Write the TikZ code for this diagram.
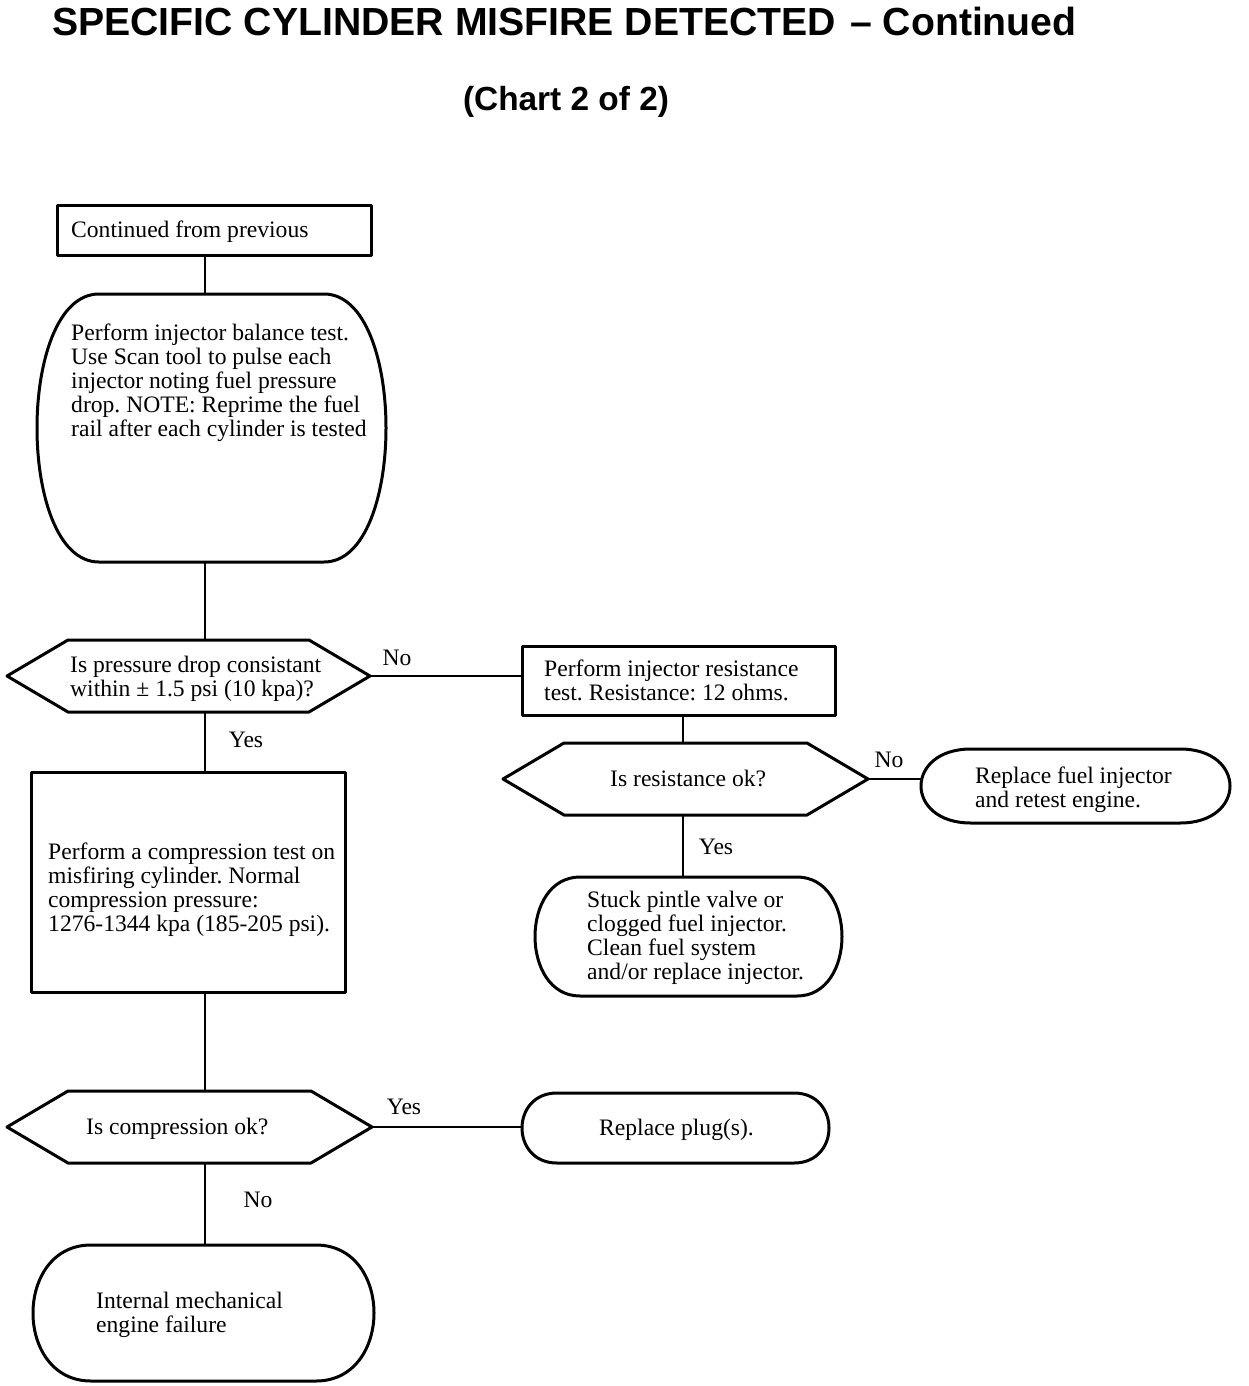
\documentclass[tikz,border=0pt]{standalone}
\usepackage{fontspec}
\setmainfont{Liberation Serif}
\newfontfamily\titlefont{Liberation Sans}
\newcommand\bodysize{\fontsize{23.6}{24}\selectfont}
\newcommand\stadiumpath[2]{%
  \draw[boxline] ([xshift=#2]#1.north west) -- ([xshift=-#2]#1.north east)
    .. controls ([xshift=#2/3]#1.north east) and ([xshift=#2/3]#1.south east) .. ([xshift=-#2]#1.south east)
    -- ([xshift=#2]#1.south west)
    .. controls ([xshift=-#2/3]#1.south west) and ([xshift=-#2/3]#1.north west) .. cycle;}
\newcommand\hexpath[2]{%
  \draw[boxline] (#1.west) -- ([xshift=#2]#1.north west) -- ([xshift=-#2]#1.north east)
    -- (#1.east) -- ([xshift=-#2]#1.south east) -- ([xshift=#2]#1.south west) -- cycle;}
\frenchspacing
\begin{document}
\begin{tikzpicture}[x=1pt,y=-1pt,
  boxline/.style={line width=3pt, line join=round},
  frame/.style={inner sep=0pt, outer sep=0pt},
  rectbox/.style={frame, draw, boxline},
  conn/.style={line width=1.8pt},
  txt/.style={inner sep=0pt, align=left, anchor=north west, font=\bodysize, execute at begin node=\strut},
  lbl/.style={inner sep=0pt, font=\bodysize}]
\useasboundingbox (0,0) rectangle (1248,1386);

% title
\node[inner sep=0pt, anchor=west] (title) at (52,21)
  {\titlefont\bfseries\fontsize{39.2}{42}\selectfont SPECIFIC CYLINDER MISFIRE DETECTED\hspace{3pt} – Continued};
\node[inner sep=0pt] (sub) at (566,102)
  {\titlefont\bfseries\fontsize{33.4}{36}\selectfont (Chart 2 of 2)};

% shapes
\node[rectbox, minimum width=314pt, minimum height=50pt] (b1) at (214,230) {};
\node[frame, minimum width=349pt, minimum height=268pt] (b2) at (211.5,428) {};
\node[frame, minimum width=363pt, minimum height=72pt] (h1) at (188.5,676) {};
\node[rectbox, minimum width=313pt, minimum height=69pt] (b4) at (678.5,680.5) {};
\node[frame, minimum width=365pt, minimum height=72pt] (h2) at (685.5,779) {};
\node[frame, minimum width=309pt, minimum height=74pt] (b6) at (1075.5,786) {};
\node[frame, minimum width=307pt, minimum height=119pt] (b7) at (688.5,936.5) {};
\node[rectbox, minimum width=314pt, minimum height=220pt] (b8) at (188,882) {};
\node[frame, minimum width=365pt, minimum height=72pt] (h3) at (189.5,1127) {};
\node[frame, minimum width=307pt, minimum height=70pt] (b10) at (675.5,1128) {};
\node[frame, minimum width=341pt, minimum height=136pt] (b11) at (203.5,1313) {};

\stadiumpath{b2}{62pt}
\hexpath{h1}{61pt}
\hexpath{h2}{61pt}
\stadiumpath{b6}{50pt}
\stadiumpath{b7}{45pt}
\hexpath{h3}{61pt}
\stadiumpath{b10}{35pt}
\stadiumpath{b11}{58pt}

% texts
\node[txt] (t1) at (71,220) {Continued from previous};
\node[txt] (t2) at (71,324) {Perform injector balance test.\\Use Scan tool to pulse each\\injector noting fuel pressure\\drop. NOTE: Reprime the fuel\\rail after each cylinder is tested};
\node[txt] (t3) at (70,656) {Is pressure drop consistant\\within ± 1.5 psi (10 kpa)?};
\node[txt] (t4) at (544,660) {Perform injector resistance\\test. Resistance: 12 ohms.};
\node[txt] (t5) at (610,769) {Is resistance ok?};
\node[txt] (t6) at (975,767) {Replace fuel injector\\and retest engine.};
\node[txt] (t7) at (587,891) {Stuck pintle valve or\\clogged fuel injector.\\Clean fuel system\\and/or replace injector.};
\node[txt] (t8) at (48,843) {Perform a compression test on\\misfiring cylinder. Normal\\compression pressure:\\1276-1344 kpa (185-205 psi).};
\node[txt] (t9) at (86,1117) {Is compression ok?};
\node[txt] (t10) at (599,1118) {Replace plug(s).};
\node[txt] (t11) at (96,1292) {Internal mechanical\\engine failure};

% connectors
\coordinate (sp) at (205,0);
\coordinate (sq) at (683,0);
\draw[conn] (b1.south -| sp) -- (b2.north -| sp);
\draw[conn] (b2.south -| sp) -- (h1.north -| sp);
\draw[conn] (h1.south -| sp) -- (b8.north -| sp);
\draw[conn] (b8.south -| sp) -- (h3.north -| sp);
\draw[conn] (h3.south -| sp) -- (b11.north -| sp);
\draw[conn] (h1.east) -- (h1.east -| b4.west);
\draw[conn] (b4.south -| sq) -- (h2.north -| sq);
\draw[conn] (h2.east) -- (h2.east -| b6.west);
\draw[conn] (h2.south -| sq) -- (b7.north -| sq);
\draw[conn] (h3.east) -- (h3.east -| b10.west);

% connector labels
\node[lbl] (l1) at (397,658) {No};
\node[lbl] (l2) at (246,740) {Yes};
\node[lbl] (l3) at (889,760) {No};
\node[lbl] (l4) at (716,847) {Yes};
\node[lbl] (l5) at (404,1107) {Yes};
\node[lbl] (l6) at (258,1200) {No};
\end{tikzpicture}
\end{document}
